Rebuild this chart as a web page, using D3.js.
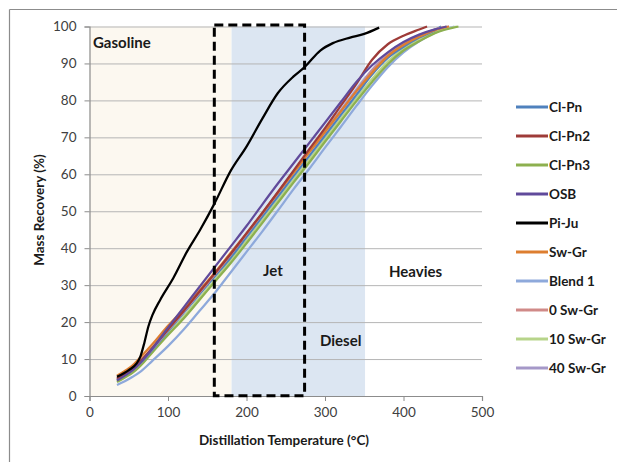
<!DOCTYPE html>
<html>
<head>
<meta charset="utf-8">
<script src="https://cdn.jsdelivr.net/npm/d3@7"></script>
<style>
  body { margin: 0; background: #fff; }
  svg { font-family: Lato, "Open Sans", sans-serif; }
</style>
</head>
<body>
<svg id="chart" width="617" height="462"></svg>
<script>
// series names, colours
var names = ["Cl-Pn", "Cl-Pn2", "Cl-Pn3", "OSB", "Pi-Ju", "Sw-Gr", "Blend 1", "0 Sw-Gr", "10 Sw-Gr", "40 Sw-Gr"];
var colors = ["#4F81BD", "#9E3B38", "#8DB04F", "#604A9B", "#000000", "#DD7E30", "#8EA9DB", "#D08A88", "#B7D48A", "#A598C8"];

// temperature grid used by the bundle of curves
var tBundle = [35, 45, 55, 65, 80, 100, 120, 140, 160, 180, 200, 220, 240, 260, 280, 300, 320, 340, 360, 380, 400, 420, 440];

var clPnT = tBundle.concat([448]);
var clPn = [4.5, 5.8, 7.2, 9, 12.5, 17.5, 22.5, 27.5, 32.5, 37.5, 43, 48.5, 54, 59.5, 65, 70.5, 76, 81.5, 87, 91.5, 94.5, 97, 99, 100];

var clPn2T = [35, 45, 55, 65, 80, 100, 120, 140, 160, 180, 200, 220, 240, 260, 280, 300, 320, 340, 360, 380, 400, 420, 430];
var clPn2 = [4.8, 6, 7.5, 9.5, 13, 18, 23, 28.2, 33.3, 38.5, 44, 49.5, 55.2, 61, 66.8, 72.5, 78.5, 84.5, 91, 95.2, 97.5, 99.2, 100];

var clPn3T = tBundle.concat([470]);
var clPn3 = [3.8, 5, 6.3, 8.2, 11.8, 16.5, 21, 26, 31, 36, 41.3, 46.8, 52.3, 57.8, 63.2, 68.8, 74.3, 79.8, 85, 89.8, 93.5, 96, 98.2, 100];

var osbT = tBundle.concat([455]);
var osb = [4.2, 5.5, 7, 9, 12.8, 18.5, 24, 29.5, 35, 40.5, 46, 51.8, 57.5, 63, 68.5, 74, 79.5, 85, 89.5, 93, 95.8, 97.8, 99.2, 100];

var piJuT = [35, 50, 60, 65, 70, 75, 80, 90, 107, 124, 141, 159, 180, 200, 220, 240, 260, 274, 294, 310, 332, 350, 369];
var piJu = [5.2, 7, 8.8, 10.8, 14.5, 18.8, 21.8, 26, 32, 39, 45, 52, 61, 67.5, 75, 82, 86.5, 89, 93.5, 95.5, 97, 98, 99.7];

var swGrT = tBundle.concat([458]);
var swGr = [5.5, 6.8, 8.3, 10.5, 14, 19, 23.5, 28.5, 33.5, 38.8, 44, 49.5, 55, 60.5, 66, 71.5, 77, 82.5, 87.5, 92, 95, 97.2, 99, 100];

var blend1T = tBundle.concat([465]);
var blend1 = [3, 4, 5.2, 6.6, 9.5, 13.5, 18, 23, 28, 33.5, 39, 44.5, 50.2, 56, 61.5, 67.2, 72.8, 78.5, 84, 89, 93, 96, 98.3, 100];

var sw0T = tBundle.concat([455]);
var sw0 = [4.5, 5.8, 7.3, 9.3, 13, 18, 23, 28, 33, 38.3, 43.8, 49.3, 55, 60.5, 66, 71.5, 77, 82.5, 88, 92.2, 95.2, 97.4, 99.2, 100];

var sw10T = tBundle.concat([468]);
var sw10 = [4, 5.2, 6.5, 8.4, 12, 16.8, 21.5, 26.5, 31.5, 36.8, 42, 47.5, 53, 58.5, 64, 69.5, 75, 80.5, 85.8, 90.5, 94, 96.5, 98.5, 100];

var sw40T = tBundle.concat([458]);
var sw40 = [4.3, 5.6, 7, 9, 12.7, 17.8, 22.8, 28, 33.2, 38.5, 44, 49.5, 55, 60.8, 66.3, 71.8, 77.3, 83, 88.3, 92.5, 95.4, 97.6, 99.2, 100];

var seriesT = [clPnT, clPn2T, clPn3T, osbT, piJuT, swGrT, blend1T, sw0T, sw10T, sw40T];
var seriesY = [clPn, clPn2, clPn3, osb, piJu, swGr, blend1, sw0, sw10, sw40];

// drawing order (back to front)
var drawOrder = [6, 8, 2, 0, 9, 7, 5, 1, 3, 4];

// fuel ranges
var regions = [
    { from: 0, to: 181, fill: "#FCF8F0" },
    { from: 181, to: 351, fill: "#DCE6F2" }
];
var boxRange = [159, 274];
var regionLabels = [
    { text: "Gasoline", x: 93, y: 48 },
    { text: "Jet", x: 263, y: 276 },
    { text: "Heavies", x: 389, y: 277 },
    { text: "Diesel", x: 320, y: 346 }
];

var xTicks = [0, 100, 200, 300, 400, 500];
var yTicks = [0, 10, 20, 30, 40, 50, 60, 70, 80, 90, 100];

var svg = d3.select("#chart");

var x = d3.scaleLinear().domain([0, 500]).range([89.5, 482]);
var y = d3.scaleLinear().domain([0, 100]).range([396, 26.5]);

// outer frame (top and left only)
svg.append("line").attr("x1", 9.5).attr("x2", 617).attr("y1", 9.5).attr("y2", 9.5)
    .attr("stroke", "#8c8c8c").attr("stroke-width", 1.2);
svg.append("line").attr("x1", 9.5).attr("x2", 9.5).attr("y1", 9.5).attr("y2", 462)
    .attr("stroke", "#8c8c8c").attr("stroke-width", 1.2);

// shaded ranges
svg.selectAll("rect.region")
    .data(regions)
    .enter().append("rect")
    .attr("class", "region")
    .attr("x", function(d) { return x(d.from); })
    .attr("width", function(d) { return x(d.to) - x(d.from); })
    .attr("y", y(100))
    .attr("height", y(0) - y(100))
    .attr("fill", function(d) { return d.fill; });

// gridlines
svg.append("g")
    .attr("transform", "translate(" + x(0) + ",0)")
    .call(d3.axisLeft(y).tickValues(yTicks.slice(1)).tickSize(-(x(500) - x(0))).tickFormat(""))
    .call(function(g) {
        g.select(".domain").remove();
        g.selectAll("line").attr("stroke", "#b5b5b5").attr("stroke-width", 1);
    });

// axes
var yAxis = svg.append("g")
    .attr("transform", "translate(" + x(0) + ",0)")
    .call(d3.axisLeft(y).tickValues(yTicks).tickSize(5).tickPadding(8));
var xAxis = svg.append("g")
    .attr("transform", "translate(0," + y(0) + ")")
    .call(d3.axisBottom(x).tickValues(xTicks).tickSize(5).tickPadding(6));

[yAxis, xAxis].forEach(function(g) {
    g.select(".domain").attr("stroke", "#8c8c8c").attr("stroke-width", 1.2);
    g.selectAll(".tick line").attr("stroke", "#8c8c8c");
    g.selectAll("text").attr("font-size", "13.5px").attr("fill", "#404040")
        .attr("font-family", "Lato, sans-serif");
});

// curves
var line = d3.line()
    .x(function(d) { return x(d[0]); })
    .y(function(d) { return y(d[1]); })
    .curve(d3.curveMonotoneX);

svg.append("g").selectAll("path")
    .data(drawOrder)
    .enter().append("path")
    .attr("fill", "none")
    .attr("stroke", function(i) { return colors[i]; })
    .attr("stroke-width", 2.25)
    .attr("stroke-linejoin", "round")
    .attr("d", function(i) { return line(d3.zip(seriesT[i], seriesY[i])); });

// dashed box around jet range
svg.append("rect")
    .attr("x", x(boxRange[0]))
    .attr("y", y(100.4))
    .attr("width", x(boxRange[1]) - x(boxRange[0]))
    .attr("height", y(0.1) - y(100.4))
    .attr("fill", "none")
    .attr("stroke", "#000")
    .attr("stroke-width", 3)
    .attr("stroke-dasharray", "9,5");

// range labels
svg.selectAll("text.region-label")
    .data(regionLabels)
    .enter().append("text")
    .attr("class", "region-label")
    .attr("x", function(d) { return d.x; })
    .attr("y", function(d) { return d.y; })
    .attr("font-size", "15px")
    .attr("font-weight", "bold")
    .attr("fill", "#1a1a1a")
    .text(function(d) { return d.text; });

// axis titles
svg.append("text")
    .attr("x", 284)
    .attr("y", 445)
    .attr("text-anchor", "middle")
    .attr("font-size", "13.5px")
    .attr("font-weight", "bold")
    .attr("fill", "#1a1a1a")
    .text("Distillation Temperature (°C)");

svg.append("text")
    .attr("transform", "translate(44,210) rotate(-90)")
    .attr("text-anchor", "middle")
    .attr("font-size", "13.5px")
    .attr("font-weight", "bold")
    .attr("fill", "#1a1a1a")
    .text("Mass Recovery (%)");

// legend
var legend = svg.append("g").selectAll("g")
    .data(names)
    .enter().append("g")
    .attr("transform", function(d, i) { return "translate(516," + (107 + i * 29) + ")"; });

legend.append("line")
    .attr("x1", 0).attr("x2", 32)
    .attr("stroke", function(d, i) { return colors[i]; })
    .attr("stroke-width", 3);

legend.append("text")
    .attr("x", 33)
    .attr("dy", ".35em")
    .attr("font-size", "13.5px")
    .attr("font-weight", "bold")
    .attr("fill", "#1a1a1a")
    .text(function(d) { return d; });
</script>
</body>
</html>
